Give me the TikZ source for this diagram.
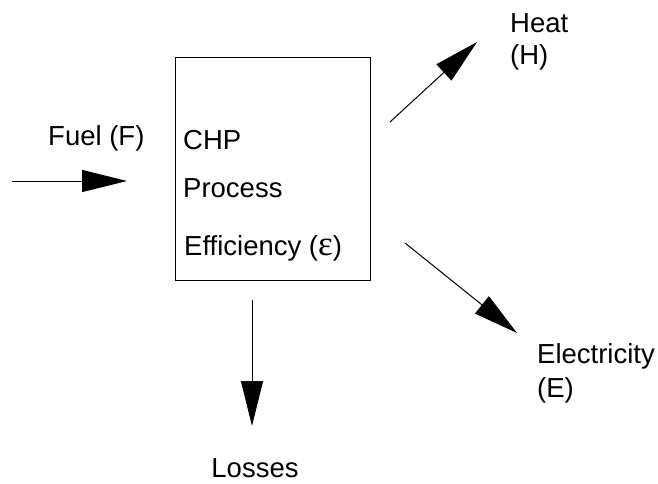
\documentclass[tikz,border=0pt]{standalone}
\usepackage{fontspec}
\setmainfont{Liberation Sans}
\newfontfamily\greekserif{Liberation Serif}
\usetikzlibrary{arrows.meta}
\begin{document}
\begin{tikzpicture}[x=1pt,y=-1pt,
    lbl/.style={inner sep=0pt,anchor=base west,font=\fontsize{27.5}{33}\selectfont},
    flow/.style={line width=1pt,-{Triangle[length=45pt,width=22pt]}},
    procbox/.style={draw,line width=1pt,minimum width=195pt,minimum height=223pt,inner sep=0pt}]
  \useasboundingbox (0,0) rectangle (658,483);

  % process block
  \node[procbox] (box) at (272.5,168.5) {};
  \node[lbl] (chp) at (183,149) {CHP};
  \node[lbl] (proc) at (183,197) {Process};
  \node[lbl] (eff) at (184,255) {Efficiency ({\greekserif\fontsize{35}{35}\selectfont ε})};

  % stream labels
  \node[lbl] (fuel) at (48,145) {Fuel (F)};
  \node[lbl] (heat) at (510,32) {Heat};
  \node[lbl] (heatsym) at (510,64) {(H)};
  \node[lbl] (elec) at (537,363) {Electricity};
  \node[lbl] (elecsym) at (537,397) {(E)};
  \node[lbl,anchor=base] (loss) at (255,477) {Losses};

  % arrow end points
  \coordinate (fuelA) at (12,181);
  \coordinate (fuelB) at (127,181);
  \coordinate (heatA) at (390,122);
  \coordinate (heatB) at (477,42);
  \coordinate (elecA) at (405,243);
  \coordinate (elecB) at (517,333);
  \coordinate (lossA) at (252,300);
  \coordinate (lossB) at (252,426);

  \draw[flow] (fuelA) -- (fuelB);
  \draw[flow] (heatA) -- (heatB);
  \draw[flow] (elecA) -- (elecB);
  \draw[flow] (lossA) -- (lossB);
\end{tikzpicture}
\end{document}
